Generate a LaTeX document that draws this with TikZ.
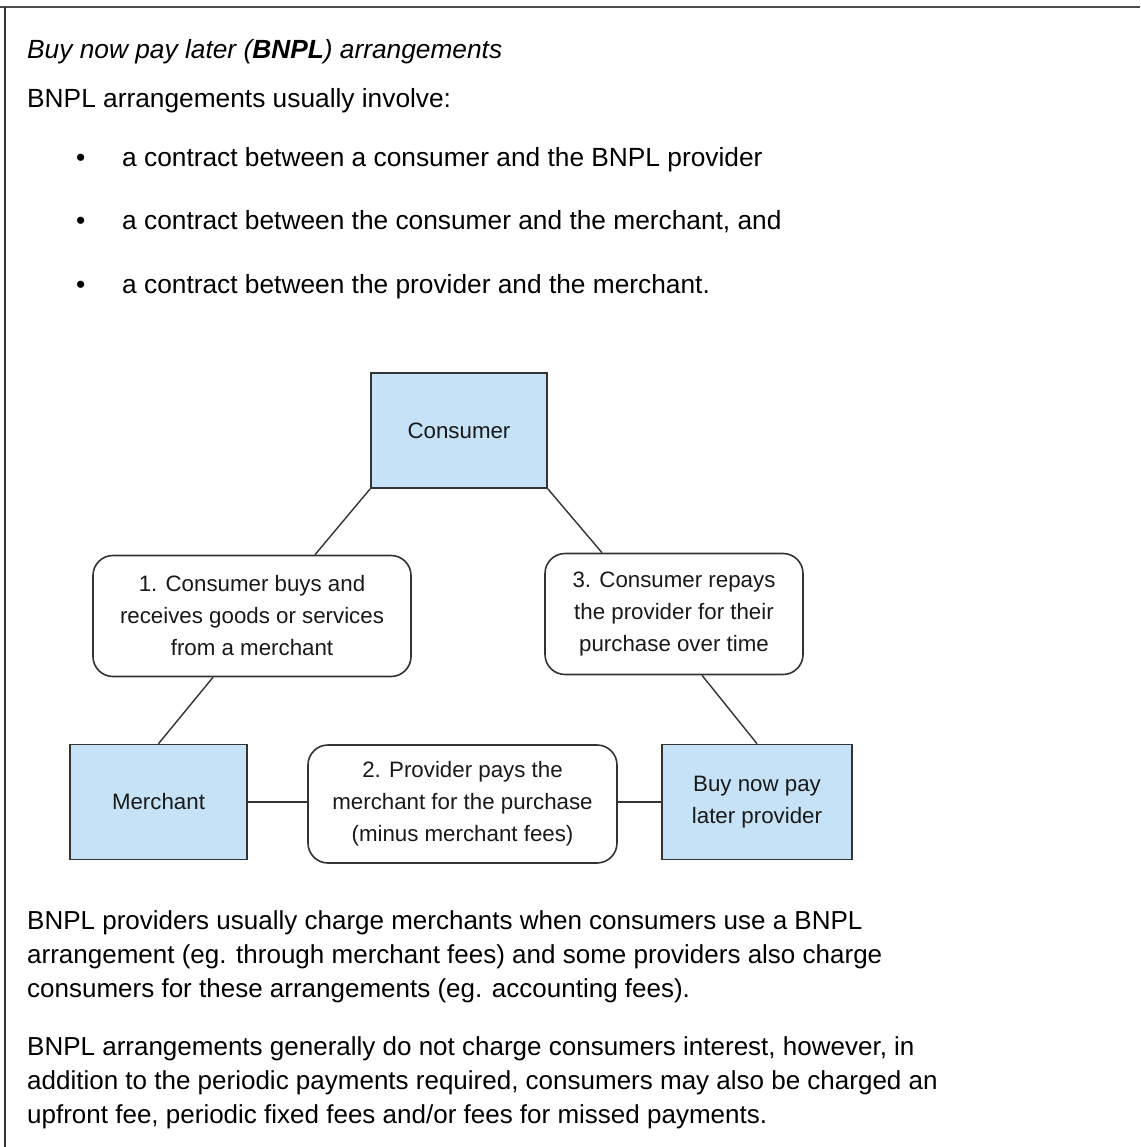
\documentclass[tikz,border=0pt]{standalone}
\usepackage{fontspec}
\setmainfont{Liberation Sans}
\definecolor{boxblue}{HTML}{C6E2F7}
\definecolor{edge}{HTML}{333333}
\definecolor{ink}{HTML}{000000}
\tikzset{
  body/.style={anchor=base west, inner sep=0pt, text=ink, font=\fontsize{26.3}{32}\selectfont},
  para/.style={body, font=\fontsize{26}{32}\selectfont},
  party/.style={draw=edge, line width=1.6pt, fill=boxblue, minimum width=#1, minimum height=115pt, inner sep=0pt, align=center, font=\fontsize{22.3}{32}\selectfont, text=black!90},
  stepbox/.style={draw=edge, line width=1.6pt, fill=white, rounded corners=20pt, minimum width=#1, minimum height=121pt, inner sep=0pt, align=center, font=\fontsize{22.3}{32}\selectfont, text=black!90},
  link/.style={draw=edge, line width=1.4pt}
}
\begin{document}
\begin{tikzpicture}[x=1pt,y=-1pt]
\useasboundingbox (0,0) rectangle (1140,1147);
\fill[white] (0,0) rectangle (1140,1147);
\draw[line width=2.5pt, color=black!70] (0,7) -- (1140,7);
\draw[line width=1.2pt, color=black!80] (5,7) -- (5,1147);

\node[body] (title) at (27,59) {\itshape Buy now pay later (\textbf{BNPL}) arrangements};
\node[body] (intro) at (27,108) {BNPL arrangements usually involve:};
\node[body] (d1) at (76,167) {\textbullet};
\node[body] (l1) at (122,167) {a contract between a consumer and the BNPL provider};
\node[body] (d2) at (76,230) {\textbullet};
\node[body] (l2) at (122,230) {a contract between the consumer and the merchant, and};
\node[body] (d3) at (76,294) {\textbullet};
\node[body] (l3) at (122,294) {a contract between the provider and the merchant.};

\node[party=176pt] (cons) at (459,430.5) {Consumer};
\node[stepbox=318pt] (b1) at (252,616) {1. Consumer buys and\\receives goods or services\\from a merchant};
\node[stepbox=258pt] (b3) at (674,614) {3. Consumer repays\\the provider for their\\purchase over time};
\node[party=177pt] (merch) at (158.5,802) {Merchant};
\node[stepbox=309pt, minimum height=118pt] (b2) at (462.5,804) {2. Provider pays the\\merchant for the purchase\\(minus merchant fees)};
\node[party=190pt] (prov) at (757,802) {Buy now pay\\later provider};

\draw[link] (cons.south west) -- ([xshift=63pt]b1.north);
\draw[link] (cons.south east) -- ([xshift=-72pt]b3.north);
\draw[link] ([xshift=-39pt]b1.south) -- (merch.north);
\draw[link] ([xshift=28pt]b3.south) -- (prov.north);
\draw[link] (merch.east) -- (merch.east -| b2.west);
\draw[link] (b2.east |- prov.west) -- (prov.west);

\node[para] (p1a) at (27,929) {BNPL providers usually charge merchants when consumers use a BNPL};
\node[para] (p1b) at (27,963) {arrangement (eg. through merchant fees) and some providers also charge};
\node[para] (p1c) at (27,997) {consumers for these arrangements (eg. accounting fees).};
\node[para] (p2a) at (27,1055) {BNPL arrangements generally do not charge consumers interest, however, in};
\node[para] (p2b) at (27,1089) {addition to the periodic payments required, consumers may also be charged an};
\node[para] (p2c) at (27,1123) {upfront fee, periodic fixed fees and/or fees for missed payments.};
\end{tikzpicture}
\end{document}
